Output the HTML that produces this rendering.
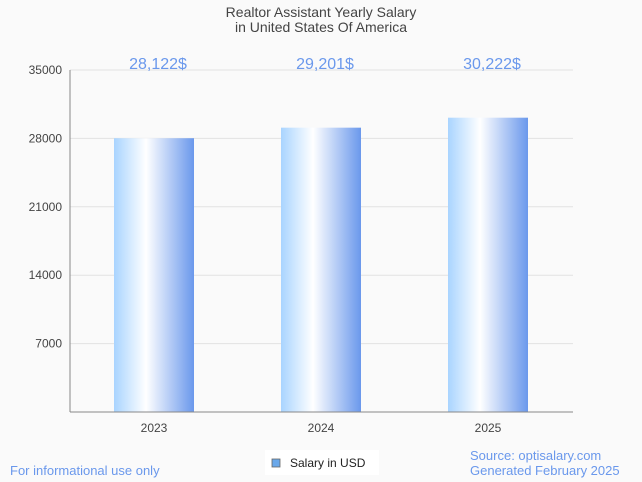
<!DOCTYPE html>
<html><head><meta charset="utf-8"><style>
body{margin:0;background:#fafafa;width:642px;height:482px;overflow:hidden;font-family:"Liberation Sans",sans-serif}
</style></head><body>
<svg width="642" height="482" style="position:absolute;left:0;top:0">
<defs><linearGradient id="g" x1="0" x2="1" y1="0" y2="0">
<stop offset="0" stop-color="#a9d4ff"/><stop offset="0.4" stop-color="#ffffff"/><stop offset="1" stop-color="#6a98ec"/></linearGradient></defs>
<text x="321" y="17" text-anchor="middle" font-size="14" fill="#444">Realtor Assistant Yearly Salary</text>
<text x="321" y="32" text-anchor="middle" font-size="14" fill="#444">in United States Of America</text>
<g id="grid"></g><g id="bars"></g>
<line x1="70" x2="573" y1="412" y2="412" stroke="#888"/>
<line x1="70" x2="70" y1="70" y2="412" stroke="#888"/>
<rect x="265" y="450" width="114" height="25" fill="#fff"/>
<rect x="272" y="459" width="8" height="8" fill="#6aa8ea" stroke="#666" stroke-width="0.8"/>
<text x="290" y="467" font-size="12" fill="#222">Salary in USD</text>
<text x="10" y="475" font-size="13" fill="#6a98ec">For informational use only</text>
<text x="470" y="460" font-size="13" fill="#6a98ec">Source: optisalary.com</text>
<text x="470" y="475" font-size="13" fill="#6a98ec">Generated February 2025</text>
</svg>
<script>
const categories=["2023","2024","2025"];
const values=[28122,29201,30222];
const valueLabels=["28,122$","29,201$","30,222$"];
const yTicks=[7000,14000,21000,28000,35000];
const NS="http://www.w3.org/2000/svg";
const y=v=>412-v/35000*342;
const x=i=>154+i*167;
function mk(t,a,p){const e=document.createElementNS(NS,t);for(const k in a)e.setAttribute(k,a[k]);p.appendChild(e);return e;}
const grid=document.getElementById('grid'),bars=document.getElementById('bars');
yTicks.forEach(t=>{
 const l=mk('line',{x1:70,x2:573,y1:y(t),y2:y(t),stroke:'#e2e2e2'},grid);
 
 
 const tx=mk('text',{x:62,y:y(t)+4,'text-anchor':'end','font-size':12,fill:'#444'},grid);
 tx.textContent=t;
 
 
});
categories.forEach((c,i)=>{
 const top=y(values[i])+1;
 const r=mk('rect',{x:x(i)-40,y:top,width:80,height:412-top,fill:'url(#g)'},bars);
 
 
 const t=mk('text',{x:x(i),y:432,'text-anchor':'middle','font-size':12,fill:'#444'},bars);
 t.textContent=c;
 
 
 const v=mk('text',{x:x(i)+4,y:69,'text-anchor':'middle','font-size':16,fill:'#6a98ec'},bars);
 v.textContent=valueLabels[i];
 
 
});
</script>
</body></html>
